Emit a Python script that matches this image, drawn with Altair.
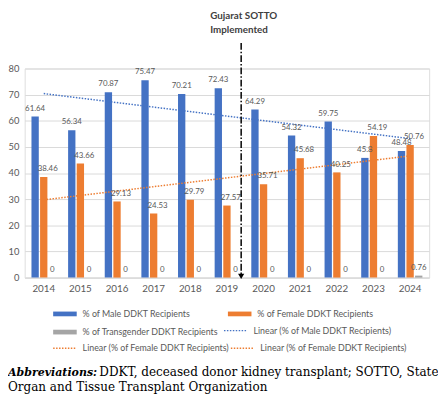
import altair as alt
import pandas as pd

# ---------------- data ----------------
years = [2014, 2015, 2016, 2017, 2018, 2019, 2020, 2021, 2022, 2023, 2024]
male = [61.64, 56.34, 70.87, 75.47, 70.21, 72.43, 64.29, 54.32, 59.75, 45.8, 48.48]
female = [38.46, 43.66, 29.13, 24.53, 29.79, 27.57, 35.71, 45.68, 40.25, 54.19, 50.76]
trans = [0, 0, 0, 0, 0, 0, 0, 0, 0, 0, 0.76]

S_M = "% of Male DDKT Recipients"
S_F = "% of Female DDKT Recipients"
S_T = "% of Transgender DDKT Recipients"
L_M = "Linear (% of Male DDKT Recipients)"
L_F = "Linear (% of Female DDKT Recipients)"
L_T = "Linear (% of Transgender DDKT Recipients)"
bar_series = [S_M, S_F, S_T]
bar_colors = ["#4472C4", "#ED7D31", "#A5A5A5"]
BLUE, ORANGE = "#4472C4", "#ED7D31"

event_year = [2019]
event_text = ["Gujarat SOTTO", "Implemented"]
y_ticks = [0, 10, 20, 30, 40, 50, 60, 70, 80]
caption_bold = ["Abbreviations:"]
caption_rest = ["DDKT, deceased donor kidney transplant; SOTTO, State"]
caption_line2 = ["Organ and Tissue Transplant Organization"]

rows = []
for i, yr in enumerate(years):
    for s, vals in ((S_M, male), (S_F, female), (S_T, trans)):
        v = vals[i]
        rows.append({"yr": yr, "series": s, "pct": v, "label": f"{v:g}"})
df = pd.DataFrame(rows)

# ---------------- scales ----------------
FONT = "Lato"
SERIF = "DejaVu Serif"
LEG = dict(title=None, orient="none", direction="horizontal", labelFont=FONT,
           labelFontSize=9, labelColor="#595959", labelOffset=5, symbolSize=576)
xscale = alt.Scale(paddingInner=0.33, paddingOuter=0.185)
yscale = alt.Scale(domain=[0, 80])
offscale = alt.Scale(domain=bar_series, paddingInner=0.15, paddingOuter=0)


def only(*names):
    return alt.FieldOneOfPredicate(field="series", oneOf=list(names))


base = alt.Chart(df)

bars = base.mark_bar().encode(
    x=alt.X("yr:O", scale=xscale, axis=alt.Axis(
        title=None, labelAngle=0, ticks=False, domainColor="#D9D9D9",
        labelColor="#595959", labelFontSize=10, labelFont=FONT, labelPadding=6)),
    xOffset=alt.XOffset("series:N", scale=offscale),
    y=alt.Y("pct:Q", scale=yscale, axis=alt.Axis(
        title=None, values=y_ticks, tickCount=len(y_ticks), labelOverlap=False,
        ticks=False, domain=False, gridColor="#D9D9D9", labelColor="#595959",
        labelFontSize=9.5, labelFont=FONT, labelPadding=6)),
    fill=alt.Fill("series:N", scale=alt.Scale(domain=bar_series, range=bar_colors),
                  legend=alt.Legend(columns=2, columnPadding=8, rowPadding=0.5,
                                    legendX=28, legendY=237,
                                    symbolType="M-1,-0.2H1V0.2H-1Z", **LEG)),
)

labels_mt = base.transform_filter(only(S_M, S_T)).mark_text(
    baseline="middle", dy=-8, fontSize=8, font=FONT, color="#595959").encode(
    x=alt.X("yr:O", scale=xscale),
    xOffset=alt.XOffset("series:N", scale=offscale),
    y=alt.Y("pct:Q", scale=yscale),
    text="label:N",
)
labels_f = base.transform_filter(only(S_F)).mark_text(
    baseline="middle", dy=-8, dx=4, fontSize=8, font=FONT, color="#595959").encode(
    x=alt.X("yr:O", scale=xscale),
    xOffset=alt.XOffset("series:N", scale=offscale),
    y=alt.Y("pct:Q", scale=yscale),
    text="label:N",
)

trend_m = base.transform_filter(only(S_M)).transform_regression(
    "yr", "pct"
).transform_calculate(lbl=f"'{L_M}'").mark_line(strokeDash=[1.5, 1.5], strokeWidth=1.5).encode(
    x=alt.X("yr:O", scale=xscale),
    y=alt.Y("pct:Q", scale=yscale),
    stroke=alt.Stroke("lbl:N", scale=alt.Scale(domain=[L_M], range=[BLUE]),
                      legend=alt.Legend(legendX=202, legendY=254, symbolType="stroke",
                                        symbolStrokeWidth=1.5, symbolDash=[1.5, 1.5], **LEG)),
)
trend_f = base.transform_filter(only(S_F)).transform_regression(
    "yr", "pct"
).transform_calculate(lbl=f"'{L_F}'").mark_line(strokeWidth=1.5, color=ORANGE).encode(
    x=alt.X("yr:O", scale=xscale),
    y=alt.Y("pct:Q", scale=yscale),
    strokeDash=alt.StrokeDash("lbl:N", scale=alt.Scale(domain=[L_F, L_T], range=[[1.5, 1.5], [1.5, 1.5]]),
                              legend=alt.Legend(columns=2, columnPadding=-9, legendX=28, legendY=272,
                                                symbolType="stroke", symbolStrokeWidth=1.5,
                                                symbolStrokeColor=ORANGE,
                                                labelExpr=f"datum.value == '{L_T}' ? '{L_F}' : datum.label",
                                                **LEG)),
)

ev = alt.Chart(pd.DataFrame({"yr": event_year}))
rule = ev.mark_rule(color="black", strokeWidth=1.5, strokeDash=[7, 2, 1.5, 2], xOffset=2).encode(
    x=alt.X("yr:O", scale=xscale, bandPosition=1),
    y=alt.datum(89.8, scale=yscale),
    y2=alt.datum(0.6),
)
arrow = ev.mark_point(shape="triangle-down", filled=True, color="black", size=40, opacity=1, xOffset=2).encode(
    x=alt.X("yr:O", scale=xscale, bandPosition=1),
    y=alt.datum(0.45, scale=yscale),
)
ev_t1 = ev.transform_calculate(t=f"'{event_text[0]}'").mark_text(
    align="left", baseline="alphabetic", xOffset=-29.5, font=FONT, fontSize=10,
    fontWeight="bold", color="#404040").encode(
    x=alt.X("yr:O", scale=xscale, bandPosition=1),
    y=alt.datum(98.9, scale=yscale), text="t:N")
ev_t2 = ev.transform_calculate(t=f"'{event_text[1]}'").mark_text(
    align="left", baseline="alphabetic", xOffset=-29.5, font=FONT, fontSize=10,
    fontWeight="bold", color="#404040").encode(
    x=alt.X("yr:O", scale=xscale, bandPosition=1),
    y=alt.datum(93.5, scale=yscale), text="t:N")

cap1 = alt.Chart(pd.DataFrame({"t": caption_bold})).mark_text(
    align="left", baseline="alphabetic", font=SERIF, fontSize=11.2,
    fontStyle="italic", fontWeight="bold", color="#000000").encode(
    x=alt.value(-17), y=alt.value(313), text="t:N")
cap2 = alt.Chart(pd.DataFrame({"t": caption_rest})).mark_text(
    align="left", baseline="alphabetic", font=SERIF, fontSize=12.2,
    color="#000000").encode(
    x=alt.value(76), y=alt.value(313), text="t:N")
cap3 = alt.Chart(pd.DataFrame({"t": caption_line2})).mark_text(
    align="left", baseline="alphabetic", font=SERIF, fontSize=12.2,
    color="#000000").encode(
    x=alt.value(-17), y=alt.value(328), text="t:N")

chart = alt.layer(
    bars, trend_m, trend_f, labels_mt, labels_f, rule, arrow, ev_t1, ev_t2, cap1, cap2, cap3
).properties(
    width=412, height=213,
    padding={"left": 17, "top": 58, "right": 9, "bottom": 118},
    autosize=alt.AutoSizeParams(type="none"),
).configure_view(strokeWidth=0).configure(background="white")

chart.save("out.html", embed_options={"renderer": "svg", "actions": False})
